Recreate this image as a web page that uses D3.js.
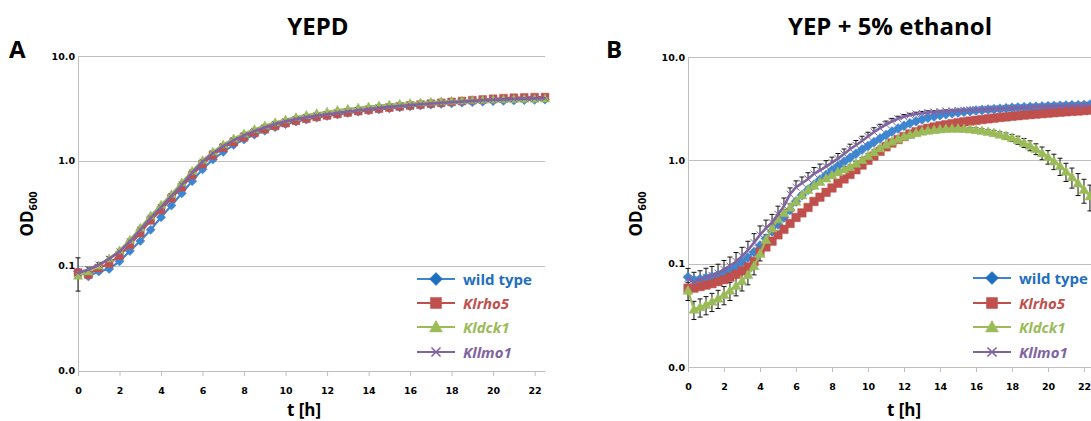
<!DOCTYPE html>
<html>
<head>
<meta charset="utf-8">
<script src="https://cdn.jsdelivr.net/npm/d3@7"></script>
<style>
  body { margin: 0; background: #fff; }
  svg { display: block; }
</style>
</head>
<body>
<script>
// ---- data ----
var seriesNames = ["wild type", "Klrho5", "Kldck1", "Kllmo1"];
var seriesColors = ["#3F86D0", "#C0504D", "#9BBB59", "#8064A2"];
var legendTextColors = ["#1F6FC0", "#C0504D", "#9BBB59", "#8064A2"];
var seriesMarkers = ["diamond", "square", "triangle", "cross"];

var tickHours = [0, 2, 4, 6, 8, 10, 12, 14, 16, 18, 20, 22];
var odTicks = [0.01, 0.1, 1, 10];
var odTickLabels = ["0.0", "0.1", "1.0", "10.0"];

// panel A: YEPD, every 0.5 h
var timesA = [0, 0.5, 1, 1.5, 2, 2.5, 3, 3.5, 4, 4.5, 5, 5.5, 6, 6.5, 7, 7.5, 8, 8.5, 9, 9.5,
  10, 10.5, 11, 11.5, 12, 12.5, 13, 13.5, 14, 14.5, 15, 15.5, 16, 16.5, 17, 17.5, 18, 18.5, 19, 19.5,
  20, 20.5, 21, 21.5, 22, 22.5];
var wildTypeA = [.088, .079, .088, .093, .110, .138, .172, .22, .29, .375, .49, .64, .83, 1.03, 1.22, 1.42, 1.6, 1.78, 1.94, 2.1,
  2.24, 2.37, 2.48, 2.59, 2.68, 2.77, 2.86, 2.94, 3.02, 3.1, 3.17, 3.24, 3.31, 3.37, 3.43, 3.49, 3.54, 3.59, 3.63, 3.67,
  3.71, 3.74, 3.77, 3.8, 3.82, 3.84];
var klrho5A = [.086, .082, .095, .105, .125, .158, .205, .27, .34, .44, .56, .73, .93, 1.13, 1.33, 1.51, 1.68, 1.85, 2.0, 2.15,
  2.29, 2.41, 2.52, 2.62, 2.71, 2.8, 2.89, 2.98, 3.06, 3.14, 3.22, 3.3, 3.37, 3.44, 3.51, 3.58, 3.65, 3.72, 3.79, 3.85,
  3.91, 3.96, 4.0, 4.03, 4.05, 4.06];
var kldck1A = [.080, .088, .10, .117, .14, .176, .23, .30, .38, .48, .62, .80, 1.01, 1.22, 1.43, 1.63, 1.82, 2.0, 2.17, 2.33,
  2.48, 2.61, 2.73, 2.84, 2.94, 3.04, 3.13, 3.21, 3.29, 3.36, 3.43, 3.49, 3.55, 3.6, 3.65, 3.69, 3.73, 3.76, 3.79, 3.82,
  3.84, 3.86, 3.88, 3.9, 3.91, 3.92];
var kllmo1A = [.085, .092, .102, .116, .136, .170, .220, .285, .36, .46, .59, .77, .98, 1.18, 1.38, 1.57, 1.75, 1.92, 2.08, 2.24,
  2.38, 2.5, 2.6, 2.7, 2.78, 2.87, 2.95, 3.04, 3.12, 3.2, 3.27, 3.34, 3.4, 3.46, 3.52, 3.58, 3.63, 3.68, 3.73, 3.78,
  3.82, 3.86, 3.89, 3.92, 3.94, 3.96];
// relative error (sd / mean)
var wildTypeErrA = [.35, .03, .03, .03, .03, .03, .03, .03, .03, .03, .03, .03, .03, .03, .03, .03, .03, .03, .03, .03,
  .03, .03, .03, .03, .03, .03, .03, .03, .03, .03, .03, .03, .03, .03, .03, .03, .03, .03, .03, .03,
  .03, .03, .03, .03, .03, .03];
var kllmo1ErrA = [.05, .05, .05, .05, .05, .05, .05, .06, .06, .06, .06, .06, .05, .05, .05, .05, .04, .04, .04, .04,
  .04, .04, .04, .04, .03, .03, .03, .03, .03, .03, .03, .03, .03, .03, .03, .03, .03, .03, .03, .03,
  .03, .03, .03, .03, .03, .03];

// panel B: YEP + 5% ethanol, every 20 min
var timesB = [0, 0.33, 0.67, 1, 1.33, 1.67, 2, 2.33, 2.67, 3, 3.33, 3.67, 4, 4.33, 4.67, 5, 5.33, 5.67,
  6, 6.33, 6.67, 7, 7.33, 7.67, 8, 8.33, 8.67, 9, 9.33, 9.67, 10, 10.33, 10.67, 11, 11.33, 11.67,
  12, 12.33, 12.67, 13, 13.33, 13.67, 14, 14.33, 14.67, 15, 15.33, 15.67, 16, 16.33, 16.67, 17, 17.33, 17.67,
  18, 18.33, 18.67, 19, 19.33, 19.67, 20, 20.33, 20.67, 21, 21.33, 21.67, 22, 22.33, 22.67];
var wildTypeB = [.074, .070, .071, .073, .075, .078, .082, .087, .094, .103, .115, .13, .15, .175, .205, .24, .28, .33,
  .40, .46, .52, .58, .65, .72, .80, .88, .97, 1.06, 1.16, 1.27, 1.38, 1.50, 1.63, 1.76, 1.90, 2.03,
  2.16, 2.28, 2.39, 2.49, 2.58, 2.66, 2.73, 2.79, 2.85, 2.90, 2.95, 2.99, 3.03, 3.07, 3.10, 3.13, 3.16, 3.19,
  3.22, 3.24, 3.26, 3.28, 3.30, 3.32, 3.34, 3.36, 3.38, 3.39, 3.41, 3.42, 3.44, 3.45, 3.47];
var klrho5B = [.058, .058, .060, .062, .064, .067, .070, .074, .079, .085, .093, .105, .13, .145, .165, .19, .215, .245,
  .28, .31, .35, .40, .44, .49, .54, .60, .66, .73, .81, .90, 1.0, 1.1, 1.22, 1.35, 1.47, 1.59,
  1.70, 1.80, 1.89, 1.97, 2.04, 2.10, 2.16, 2.21, 2.26, 2.31, 2.36, 2.40, 2.44, 2.48, 2.52, 2.56, 2.60, 2.63,
  2.67, 2.70, 2.74, 2.77, 2.80, 2.83, 2.86, 2.89, 2.92, 2.95, 2.98, 3.00, 3.03, 3.06, 3.08];
var kldck1B = [.055, .036, .038, .040, .043, .046, .050, .055, .061, .068, .078, .095, .125, .17, .22, .27, .31, .35,
  .40, .46, .52, .57, .62, .67, .72, .77, .82, .86, .93, 1.01, 1.10, 1.20, 1.31, 1.42, 1.52, 1.61,
  1.70, 1.77, 1.84, 1.90, 1.94, 1.97, 2.00, 2.02, 2.03, 2.03, 2.02, 2.00, 1.97, 1.93, 1.89, 1.84, 1.78, 1.72,
  1.65, 1.57, 1.48, 1.39, 1.29, 1.18, 1.08, .98, .88, .78, .69, .60, .52, .45, .39];
var kllmo1B = [.072, .066, .070, .074, .077, .081, .088, .095, .105, .118, .135, .16, .19, .22, .25, .30, .36, .47,
  .55, .60, .66, .74, .80, .87, .95, 1.04, 1.15, 1.28, 1.40, 1.54, 1.70, 1.88, 2.05, 2.22, 2.38, 2.52,
  2.64, 2.74, 2.81, 2.86, 2.90, 2.93, 2.96, 2.99, 3.01, 3.03, 3.05, 3.07, 3.09, 3.11, 3.13, 3.15, 3.17, 3.19,
  3.21, 3.23, 3.25, 3.27, 3.29, 3.31, 3.33, 3.34, 3.36, 3.37, 3.39, 3.40, 3.42, 3.43, 3.45];
var kldck1ErrB = [.2, .2, .2, .2, .2, .2, .2, .2, .2, .2, .2, .18, .15, .12, .1, .1, .08, .08,
  .06, .06, .06, .06, .06, .06, .06, .06, .06, .05, .05, .05, .05, .05, .05, .05, .05, .05,
  .04, .04, .04, .04, .04, .04, .04, .04, .04, .04, .04, .04, .05, .05, .05, .06, .06, .07,
  .08, .09, .1, .11, .12, .14, .15, .17, .19, .2, .22, .24, .26, .28, .3];
var kllmo1ErrB = [.25, .25, .22, .22, .22, .22, .22, .22, .22, .22, .22, .22, .22, .2, .2, .2, .2, .15,
  .15, .15, .15, .15, .15, .14, .13, .12, .12, .12, .11, .11, .1, .1, .09, .08, .07, .06,
  .05, .04, .04, .04, .04, .03, .03, .03, .03, .03, .03, .03, .03, .03, .03, .03, .03, .03,
  .03, .03, .03, .03, .03, .03, .03, .03, .03, .03, .03, .03, .03, .03, .03];

// ---- drawing ----
var svg = d3.select("body").append("svg")
  .attr("width", 1091)
  .attr("height", 421);

var gridColor = "#BFBFBF";

function markerPath(type, r) {
  if (type === "diamond") return `M0,${-r}L${r},0L0,${r}L${-r},0Z`;
  if (type === "square") return `M${-r * 0.85},${-r * 0.85}H${r * 0.85}V${r * 0.85}H${-r * 0.85}Z`;
  if (type === "triangle") return `M0,${-r}L${r},${r * 0.75}L${-r},${r * 0.75}Z`;
  return `M${-r * 0.7},${-r * 0.7}L${r * 0.7},${r * 0.7}M${-r * 0.7},${r * 0.7}L${r * 0.7},${-r * 0.7}`;
}

function drawMarker(sel, type, color, r, crossWidth) {
  sel.append("path")
    .attr("d", markerPath(type, r))
    .attr("fill", type === "cross" ? "none" : color)
    .attr("stroke", color)
    .attr("stroke-width", type === "cross" ? crossWidth : 0.5);
}

function drawPanel(p) {
  var x = d3.scaleLinear().domain(p.xDomain).range(p.xRange);
  var y = d3.scaleLog().domain([0.01, 10]).range(p.yRange);
  var g = svg.append("g");

  // horizontal gridlines
  g.selectAll(".grid")
    .data(odTicks.slice(1))
    .enter()
    .append("line")
    .attr("x1", p.xRange[0])
    .attr("x2", p.xRange[1])
    .attr("y1", d => Math.round(y(d)) + 0.5)
    .attr("y2", d => Math.round(y(d)) + 0.5)
    .attr("stroke", gridColor);

  // x axis
  var xAxis = d3.axisBottom(x).tickValues(tickHours).tickSize(5).tickSizeOuter(0).tickPadding(11);
  var xg = g.append("g")
    .attr("transform", `translate(0, ${Math.round(p.yRange[0])})`)
    .call(xAxis);
  xg.select(".domain").attr("stroke", gridColor);
  xg.selectAll(".tick line").attr("stroke", gridColor);
  xg.selectAll("text")
    .attr("font-family", "DejaVu Sans")
    .attr("font-weight", "bold")
    .attr("font-size", "9.5px")
    .attr("fill", "#000");

  // y axis
  var yAxis = d3.axisLeft(y).tickValues(odTicks).tickFormat((d, i) => odTickLabels[i])
    .tickSize(0).tickSizeOuter(0).tickPadding(3);
  var yg = g.append("g")
    .attr("transform", `translate(${Math.round(p.xRange[0])}, 0)`)
    .call(yAxis);
  yg.select(".domain").attr("stroke", gridColor);
  yg.selectAll("text")
    .attr("font-family", "DejaVu Sans")
    .attr("font-weight", "bold")
    .attr("font-size", "9.5px")
    .attr("fill", "#000");

  // error bars below everything else
  p.series.forEach(function(s) {
    if (!s.err) return;
    var eg = g.append("g").attr("stroke", "#111").attr("stroke-width", 1);
    s.values.forEach(function(v, i) {
      var e = s.err[i];
      var cx = x(p.times[i]);
      var hi = y(v * (1 + e));
      var lo = s.plusOnly ? y(v) : y(v * (1 - e));
      eg.append("line").attr("x1", cx).attr("x2", cx).attr("y1", hi).attr("y2", lo);
      eg.append("line").attr("x1", cx - 2.5).attr("x2", cx + 2.5).attr("y1", hi).attr("y2", hi);
      if (!s.plusOnly) {
        eg.append("line").attr("x1", cx - 2.5).attr("x2", cx + 2.5).attr("y1", lo).attr("y2", lo);
      }
    });
  });

  // series lines and markers
  p.series.forEach(function(s) {
    var line = d3.line()
      .x((d, i) => x(p.times[i]))
      .y(d => y(d));
    g.append("path")
      .datum(s.values)
      .attr("d", line)
      .attr("fill", "none")
      .attr("stroke", seriesColors[s.idx])
      .attr("stroke-width", s.idx === 3 ? 2.6 : 2.2);
    s.values.forEach(function(v, i) {
      var mg = g.append("g").attr("transform", `translate(${x(p.times[i])}, ${y(v)})`);
      drawMarker(mg, seriesMarkers[s.idx], seriesColors[s.idx], p.markerR, 1);
    });
  });

  // legend
  seriesNames.forEach(function(name, i) {
    var ly = p.legendY[i];
    var lg = g.append("g");
    lg.append("line")
      .attr("x1", p.legendX).attr("x2", p.legendX + 38)
      .attr("y1", ly).attr("y2", ly)
      .attr("stroke", seriesColors[i]).attr("stroke-width", 2);
    var mg = lg.append("g").attr("transform", `translate(${p.legendX + 19}, ${ly})`);
    drawMarker(mg, seriesMarkers[i], i === 0 ? "#1F6FC0" : seriesColors[i], 6.5, 1.6);
    lg.append("text")
      .attr("x", p.legendX + 46)
      .attr("y", ly + 5.5)
      .attr("font-family", "Open Sans")
      .attr("font-weight", "bold")
      .attr("font-style", i === 0 ? "normal" : "italic")
      .attr("font-size", "15px")
      .attr("fill", legendTextColors[i])
      .text(name);
  });

  // title and panel letter
  svg.append("text")
    .attr("x", p.titleX).attr("y", 35)
    .attr("text-anchor", "middle")
    .attr("font-family", "Open Sans").attr("font-weight", "bold").attr("font-size", "24px")
    .text(p.title);
  svg.append("text")
    .attr("x", p.letterX).attr("y", 58)
    .attr("font-family", "Open Sans").attr("font-weight", "bold").attr("font-size", "24px")
    .text(p.letter);

  // axis titles
  svg.append("text")
    .attr("x", p.xTitleX).attr("y", 416)
    .attr("text-anchor", "middle")
    .attr("font-family", "Open Sans").attr("font-weight", "bold").attr("font-size", "17px")
    .text("t [h]");
  var yt = svg.append("text")
    .attr("transform", `translate(${p.yTitleX}, 214) rotate(-90)`)
    .attr("text-anchor", "middle")
    .attr("font-family", "Open Sans").attr("font-weight", "bold").attr("font-size", "17px");
  yt.append("tspan").text("OD");
  yt.append("tspan").attr("font-size", "11px").attr("dy", 4).text("600");
}

drawPanel({
  xDomain: [0, 22.5], xRange: [78, 545], yRange: [370.5, 56],
  times: timesA, markerR: 4.6,
  series: [
    { idx: 0, values: wildTypeA, err: wildTypeErrA },
    { idx: 1, values: klrho5A },
    { idx: 2, values: kldck1A },
    { idx: 3, values: kllmo1A, err: kllmo1ErrA }
  ],
  legendX: 417, legendY: [279, 303, 327, 352],
  title: "YEPD", titleX: 318, letter: "A", letterX: 9,
  xTitleX: 304, yTitleX: 33
});

drawPanel({
  xDomain: [0, 23], xRange: [688, 1102], yRange: [367, 57],
  times: timesB, markerR: 5,
  series: [
    { idx: 0, values: wildTypeB },
    { idx: 1, values: klrho5B },
    { idx: 2, values: kldck1B, err: kldck1ErrB },
    { idx: 3, values: kllmo1B, err: kllmo1ErrB, plusOnly: true }
  ],
  legendX: 973, legendY: [278, 303, 327, 352],
  title: "YEP + 5% ethanol", titleX: 890, letter: "B", letterX: 606,
  xTitleX: 904, yTitleX: 642
});
</script>
</body>
</html>
